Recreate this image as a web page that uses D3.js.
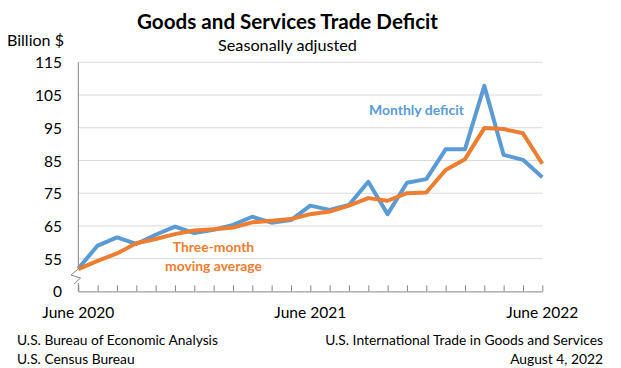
<!DOCTYPE html>
<html>
<head>
<meta charset="utf-8">
<script src="https://cdn.jsdelivr.net/npm/d3@7"></script>
<style>
  html, body { margin: 0; padding: 0; background: #fff; }
  svg { display: block; font-family: Lato, "Open Sans", sans-serif; }
</style>
</head>
<body>
<svg id="chart" width="621" height="368"></svg>
<script>
// ---- data ----
const months = ["2020-06","2020-07","2020-08","2020-09","2020-10","2020-11","2020-12",
  "2021-01","2021-02","2021-03","2021-04","2021-05","2021-06","2021-07","2021-08","2021-09",
  "2021-10","2021-11","2021-12","2022-01","2022-02","2022-03","2022-04","2022-05","2022-06"];
const monthlyDeficit = [52.0, 59.0, 61.5, 59.5, 62.3, 64.8, 62.8, 63.8, 65.3, 67.8, 66.0, 66.8,
  71.2, 69.9, 71.4, 78.5, 68.6, 78.2, 79.3, 88.4, 88.4, 107.8, 86.7, 85.2, 79.9];
const movingAverage = [51.8, 54.3, 56.6, 59.7, 61.0, 62.5, 63.6, 64.0, 64.5, 66.1, 66.6, 67.1,
  68.6, 69.4, 71.2, 73.5, 72.7, 75.0, 75.2, 82.1, 85.4, 94.9, 94.6, 93.3, 84.0];
const yTickValues = [45, 55, 65, 75, 85, 95, 105, 115];
const yTickLabels = ["0", "55", "65", "75", "85", "95", "105", "115"];
const xLabelMonths = ["2020-06", "2021-06", "2022-06"];
const xLabels = ["June 2020", "June 2021", "June 2022"];

// ---- layout ----
const svg = d3.select("#chart");
const L = 78.3, R = 542.3, T = 62.3, B = 291.4;
const x = d3.scalePoint().domain(months).range([L, R]);
const y = d3.scaleLinear().domain([45, 115]).range([B, T]);
const blue = "#5B9BD5", orange = "#ED7D31", grid = "#D9D9D9", axisCol = "#868686";

// fit text to a target width
function fit(sel, targetW, startSize) {
  sel.attr("font-size", startSize);
  const w = sel.node().getComputedTextLength();
  const s = startSize * targetW / w;
  sel.attr("font-size", s);
  return s;
}

// gridlines
svg.append("g").selectAll("line").data(yTickValues.filter(v => v > 45)).join("line")
  .attr("x1", L).attr("x2", R).attr("y1", d => y(d)).attr("y2", d => y(d))
  .attr("stroke", grid).attr("stroke-width", 1);

// y axis line with break
const ax = svg.append("g").attr("stroke", axisCol).attr("fill", "none").attr("stroke-width", 1);
ax.append("line").attr("x1", L).attr("x2", L).attr("y1", T).attr("y2", 269);
ax.append("path").attr("d", `M${L},269 L71,275 L80.5,278 L74,284`);
ax.append("line").attr("x1", L).attr("x2", L).attr("y1", 283).attr("y2", B);

// x axis with inward ticks
const xAxis = d3.axisBottom(x).tickSizeInner(-6).tickSizeOuter(0).tickFormat("");
const gx = svg.append("g").attr("transform", `translate(0,${B})`).call(xAxis);
gx.select(".domain").attr("stroke", axisCol);
gx.selectAll(".tick line").attr("stroke", axisCol);

// y tick labels
const yAxis = d3.axisLeft(y).tickValues(yTickValues).tickSize(0).tickPadding(0)
  .tickFormat((d, i) => yTickLabels[i]);
const gy = svg.append("g").attr("transform", `translate(62,0)`).call(yAxis);
gy.select(".domain").remove();
gy.selectAll("text").attr("fill", "#000").attr("font-family", "Lato, sans-serif").attr("dy", "0.36em");
const t115 = gy.selectAll("text").filter((d) => d === 115);
const yfs = fit(t115, 27, 16);
gy.selectAll("text").attr("font-size", yfs);

// x labels
const xl = svg.append("g").selectAll("text").data(xLabelMonths).join("text")
  .attr("x", d => x(d)).attr("y", 318).attr("text-anchor", "middle")
  .attr("fill", "#000").text((d, i) => xLabels[i]);
const xfs = fit(xl.filter((d, i) => i === 1), 72, 16);
xl.attr("font-size", xfs);

// lines
const line = d3.line().x((d, i) => x(months[i])).y(d => y(d));
svg.append("path").datum(monthlyDeficit).attr("d", line)
  .attr("fill", "none").attr("stroke", blue).attr("stroke-width", 4).attr("stroke-linejoin", "round");
svg.append("path").datum(movingAverage).attr("d", line)
  .attr("fill", "none").attr("stroke", orange).attr("stroke-width", 4).attr("stroke-linejoin", "round");

// annotations
const md = svg.append("text").attr("x", 369).attr("y", 115).attr("fill", blue)
  .attr("font-weight", "bold").text("Monthly deficit");
fit(md, 95, 15);
const ta1 = svg.append("text").attr("x", 213.5).attr("y", 252).attr("text-anchor", "middle")
  .attr("fill", orange).attr("font-weight", "bold").text("Three-month");
const ta2 = svg.append("text").attr("x", 213.5).attr("y", 271).attr("text-anchor", "middle")
  .attr("fill", orange).attr("font-weight", "bold").text("moving average");
const afs = fit(ta2, 97, 15);
ta1.attr("font-size", afs);

// titles
const title = svg.append("text").attr("x", 287.5).attr("y", 29).attr("text-anchor", "middle")
  .attr("font-weight", "bold").attr("fill", "#000").text("Goods and Services Trade Deficit");
fit(title, 301, 24);
const sub = svg.append("text").attr("x", 287.5).attr("y", 51).attr("text-anchor", "middle")
  .attr("fill", "#000").text("Seasonally adjusted");
fit(sub, 139, 16);
const bil = svg.append("text").attr("x", 7).attr("y", 46).attr("fill", "#000").text("Billion $");
fit(bil, 57, 16);

// footers
const f1 = svg.append("text").attr("x", 17).attr("y", 345).attr("fill", "#000").text("U.S. Bureau of Economic Analysis");
const ffs = fit(f1, 201, 13);
svg.append("text").attr("x", 17).attr("y", 364).attr("fill", "#000").attr("font-size", ffs).text("U.S. Census Bureau");
svg.append("text").attr("x", 603).attr("y", 345).attr("text-anchor", "end").attr("fill", "#000")
  .attr("font-size", ffs).text("U.S. International Trade in Goods and Services");
svg.append("text").attr("x", 603).attr("y", 364).attr("text-anchor", "end").attr("fill", "#000")
  .attr("font-size", ffs).text("August 4, 2022");
</script>
</body>
</html>
